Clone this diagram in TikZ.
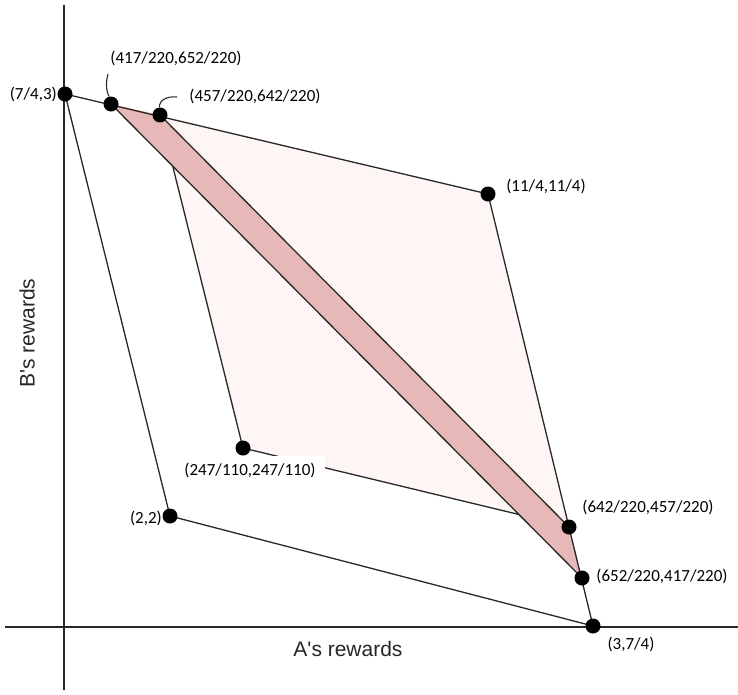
\documentclass[tikz,border=0pt]{standalone}
\usepackage{fontspec}
\setmainfont{Carlito}
\newfontfamily\axfont{Liberation Sans}
\usetikzlibrary{calc}
\definecolor{bandpink}{RGB}{230,184,183}
\definecolor{lightpink}{RGB}{253,246,245}
\definecolor{linegray}{RGB}{40,40,40}
\tikzset{
  edge/.style={draw=linegray, line width=1.3pt},
  axis/.style={draw=linegray, line width=2pt},
  dot/.style={circle, fill=black, inner sep=0pt, minimum size=15pt},
  lbl/.style={font=\fontsize{17}{20}\selectfont, text=black, inner sep=1pt},
  axlbl/.style={font=\axfont\fontsize{21}{24}\selectfont, text=black!85, inner sep=0pt},
  leader/.style={draw=linegray, line width=1.1pt}
}
\begin{document}
\begin{tikzpicture}[x=1pt,y=-1pt]
\useasboundingbox (0,0) rectangle (738,694);
% points
\coordinate (P1) at (65,94);
\coordinate (P2) at (111,104);
\coordinate (P3) at (160,115);
\coordinate (P4) at (488,194);
\coordinate (P5) at (243,448);
\coordinate (P6) at (170,516);
\coordinate (P7) at (569,527);
\coordinate (P8) at (582,578);
\coordinate (P9) at (593,626);
\coordinate (Q1) at ($(P2)!0.131!(P8)$);
\coordinate (Q2) at ($(P2)!0.866!(P8)$);
% axes
\coordinate (Ytop) at (64,5);
\coordinate (Ybot) at (64,690);
\coordinate (Xl) at (5,627);
\coordinate (Xr) at (738,627);
% fills
\fill[lightpink] (P3) -- (P4) -- (P7) -- (Q2) -- (P5) -- (Q1) -- cycle;
\fill[bandpink] (P2) -- (P3) -- (P7) -- (P8) -- cycle;
% edges
\draw[axis] (Ytop) -- (Ybot);
\draw[axis] (Xl) -- (Xr);
\draw[edge] (P1) -- (P4);
\draw[edge] (P4) -- (P9);
\draw[edge] (P9) -- (P6);
\draw[edge] (P6) -- (P1);
\draw[edge] (P2) -- (P8);
\draw[edge] (P3) -- (P7);
\draw[edge] (Q1) -- (P5) -- (Q2);
% labels
\node[lbl, anchor=east] (L1) at (58,94) {(7/4,3)};
\node[lbl] (L2) at (176,58) {(417/220,652/220)};
\node[lbl] (L3) at (255,96) {(457/220,642/220)};
\node[lbl] (L4) at (546,186) {(11/4,11/4)};
\node[lbl, fill=white, inner xsep=9pt, inner ysep=7pt] (L5) at (250,470) {(247/110,247/110)};
\node[lbl, anchor=east] (L6) at (163,518) {(2,2)};
\node[lbl] (L7) at (648,507) {(642/220,457/220)};
\node[lbl] (L8) at (662,576) {(652/220,417/220)};
\node[lbl] (L9) at (631,644) {(3,7/4)};
% dots
\foreach \p in {P1,P2,P3,P4,P5,P6,P7,P8,P9} \node[dot] (d\p) at (\p) {};
% leaders
\coordinate (A2) at (108,74);
\coordinate (A3) at (177,97);
\draw[leader] (A2) .. controls (104,88) and (109,96) .. (dP2);
\draw[leader] (dP3) .. controls (159,100) and (167,96) .. (A3);
% axis labels
\node[axlbl] (XA) at (348,649) {A's rewards};
\node[axlbl, rotate=90] (YA) at (27,333) {B's rewards};
\end{tikzpicture}
\end{document}
